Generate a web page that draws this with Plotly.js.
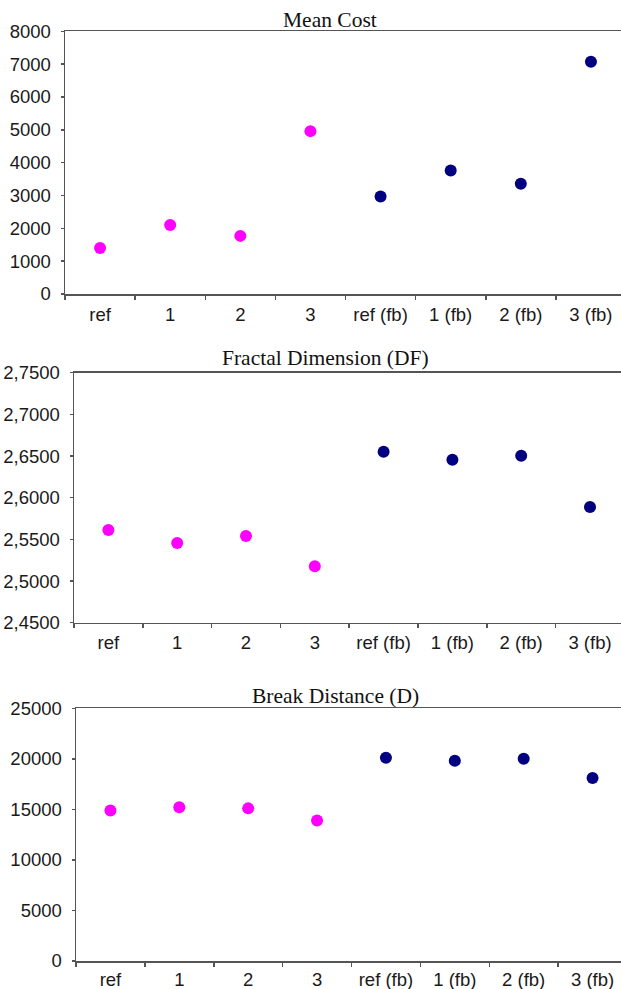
<!DOCTYPE html>
<html>
<head>
<meta charset="utf-8">
<script src="https://cdn.plot.ly/plotly-3.0.1.min.js"></script>
<style>
html,body{margin:0;padding:0;overflow:hidden;background:#fff;}
#chart{width:630px;height:989px;}
</style>
</head>
<body>
<div id="chart"></div>
<script>
// Data
const categories = ["ref", "1", "2", "3", "ref (fb)", "1 (fb)", "2 (fb)", "3 (fb)"];
const baseCats = ["ref", "1", "2", "3"];
const fbCats = ["ref (fb)", "1 (fb)", "2 (fb)", "3 (fb)"];

const titles = ["Mean Cost", "Fractal Dimension (DF)", "Break Distance (D)"];

const meanCostBase = [1400, 2100, 1770, 4960];
const meanCostFb = [2970, 3760, 3360, 7070];

const fractalBase = [2.5612, 2.5456, 2.5540, 2.5177];
const fractalFb = [2.6552, 2.6456, 2.6504, 2.5888];

const breakBase = [14900, 15200, 15100, 13900];
const breakFb = [20100, 19800, 20000, 18100];

const W = 630, H = 989;
const pink = "#FF00FF", navy = "#000080";
const tickFont = {family: "Liberation Sans, Arial, sans-serif", size: 18.5, color: "#1a1a1a"};
const titleFont = {family: "Liberation Serif, Times New Roman, serif", size: 21.5, color: "#111"};

function pt(x, y, xa, ya, color) {
  return {x: x, y: y, xaxis: xa, yaxis: ya, type: "scatter", mode: "markers",
    marker: {color: color, size: 12}, showlegend: false, hoverinfo: "x+y"};
}

const data = [
  pt(baseCats, meanCostBase, "x", "y", pink),
  pt(fbCats, meanCostFb, "x", "y", navy),
  pt(baseCats, fractalBase, "x2", "y2", pink),
  pt(fbCats, fractalFb, "x2", "y2", navy),
  pt(baseCats, breakBase, "x3", "y3", pink),
  pt(fbCats, breakFb, "x3", "y3", navy)
];

function xaxis(left, right, anchor, standoff) {
  return {
    domain: [left / W, right / W], anchor: anchor, type: "category",
    categoryorder: "array", categoryarray: categories,
    range: [-0.5, 7.5], tickson: "boundaries",
    showline: true, linecolor: "#555", linewidth: 1.5, mirror: true,
    ticks: "outside", ticklen: 4, tickcolor: "#555", tickwidth: 1.5,
    showgrid: false, zeroline: false, tickfont: tickFont, ticklabelstandoff: standoff,
    fixedrange: true
  };
}
function yaxis(top, bottom, anchor, range, dtick, fmt) {
  return {
    domain: [(H - bottom) / H, (H - top) / H], anchor: anchor,
    range: range, dtick: dtick, tick0: range[0], tickformat: fmt,
    showline: true, linecolor: "#555", linewidth: 1.5, mirror: true,
    ticks: "outside", ticklen: 3, tickcolor: "#555", tickwidth: 1.5,
    showgrid: false, zeroline: false, tickfont: tickFont, ticklabelstandoff: 6,
    fixedrange: true
  };
}

function titleAnn(text, xc, yc) {
  return {text: text, xref: "paper", yref: "paper", x: xc / W, y: (H - yc) / H,
    xanchor: "center", yanchor: "middle", showarrow: false, font: titleFont};
}

const layout = {
  width: W, height: H,
  margin: {l: 0, r: 0, t: 0, b: 0},
  paper_bgcolor: "#fff", plot_bgcolor: "#fff",
  separators: ",.",
  showlegend: false,
  xaxis: xaxis(65, 626, "y", 3),
  yaxis: yaxis(31.3, 294, "x", [0, 8000], 1000, "d"),
  xaxis2: xaxis(74, 624.4, "y2", 3),
  yaxis2: yaxis(372.7, 622.7, "x2", [2.45, 2.75], 0.05, ".4f"),
  xaxis3: xaxis(76, 627, "y3", 1),
  yaxis3: yaxis(708.3, 961, "x3", [0, 25000], 5000, "d"),
  annotations: [
    titleAnn(titles[0], 330, 20),
    titleAnn(titles[1], 325.7, 358),
    titleAnn(titles[2], 335.5, 696)
  ]
};

Plotly.newPlot("chart", data, layout, {displayModeBar: false, staticPlot: true});
</script>
</body>
</html>
